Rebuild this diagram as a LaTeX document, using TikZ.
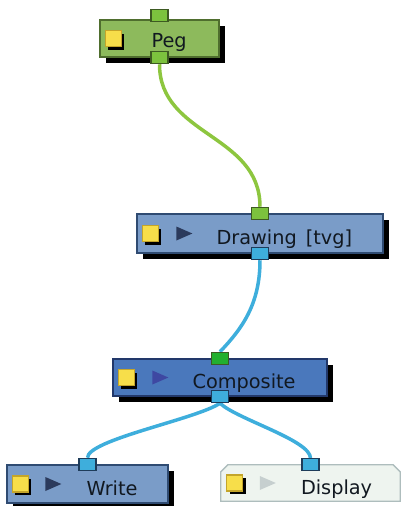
\documentclass[tikz,border=0pt]{standalone}
\usepackage{fontspec}
\setmainfont{DejaVu Sans}
\usetikzlibrary{calc,shadows,backgrounds}
\definecolor{pegfill}{HTML}{8DBA5C}
\definecolor{pegdraw}{HTML}{4F6E2E}
\definecolor{gport}{HTML}{7CC23E}
\definecolor{gportdraw}{HTML}{3D5A22}
\definecolor{drfill}{HTML}{7A9CC8}
\definecolor{drdraw}{HTML}{2F4B72}
\definecolor{cofill}{HTML}{4A78BC}
\definecolor{codraw}{HTML}{22386A}
\definecolor{bport}{HTML}{3EAEDC}
\definecolor{bportdraw}{HTML}{1E3C5A}
\definecolor{cport}{HTML}{22B02E}
\definecolor{difill}{HTML}{EEF4EF}
\definecolor{didraw}{HTML}{AEBDBD}
\definecolor{yel}{HTML}{F7DE4A}
\definecolor{yeldraw}{HTML}{C4A52A}
\definecolor{tridark}{HTML}{2B3A5C}
\definecolor{triblue}{HTML}{3E48A2}
\definecolor{trilight}{HTML}{C6CFCF}
\definecolor{gwire}{HTML}{8DC63F}
\definecolor{bwire}{HTML}{3EAEDC}
\definecolor{txt}{HTML}{111820}
\begin{document}
\begin{tikzpicture}[x=1pt,y=-1pt,
  box/.style={rectangle,inner sep=0pt,line width=1.3pt,
    drop shadow={shadow xshift=6pt,shadow yshift=-6pt,fill=black,opacity=1}},
  port/.style={rectangle,inner sep=0pt,minimum width=17pt,minimum height=12pt,line width=1.2pt},
  gp/.style={port,fill=gport,draw=gportdraw},
  bp/.style={port,fill=bport,draw=bportdraw},
  cp/.style={port,fill=cport,draw=gportdraw},
  ysq/.style={rectangle,inner sep=0pt,minimum size=16pt,fill=yel,draw=yeldraw,line width=1.2pt,
    drop shadow={shadow xshift=3pt,shadow yshift=-3pt,fill=black,opacity=1}},
  lbl/.style={inner sep=0pt,font=\fontsize{19.3}{22}\selectfont,text=txt},
  gw/.style={draw=gwire,line width=3.5pt},
  bw/.style={draw=bwire,line width=3.5pt}
]
\useasboundingbox (0,0) rectangle (406,506);

% Peg
\node[box,fill=pegfill,draw=pegdraw,minimum width=119pt,minimum height=37pt] (peg) at (159.5,38.5) {};
\node[ysq] (pegy) at ($(peg.west)+(14,0)$) {};
\node[lbl,anchor=base west] (pegt) at ($(peg.west)+(52,9)$) {Peg};
\node[gp] (pegin) at ($(peg.north)+(0,-4)$) {};
\node[gp] (pegout) at (peg.south) {};

% Drawing
\node[box,fill=drfill,draw=drdraw,minimum width=246pt,minimum height=39pt] (dr) at (260,233.5) {};
\node[ysq] (dry) at ($(dr.west)+(14,0)$) {};
\fill[tridark] ($(dr.west)+(40,-7)$) -- ++(16,7) -- ++(-16,7) -- cycle;
\node[lbl,anchor=base west] (drt) at ($(dr.west)+(80,11)$) {Drawing\hspace{9pt}[tvg]};
\node[gp] (drin) at (dr.north) {};
\node[bp] (drout) at (dr.south) {};

% Composite
\node[box,fill=cofill,draw=codraw,minimum width=214pt,minimum height=37pt] (co) at (220,377.5) {};
\node[ysq] (coy) at ($(co.west)+(14,0)$) {};
\fill[triblue] ($(co.west)+(40,-7)$) -- ++(16,7) -- ++(-16,7) -- cycle;
\node[lbl,anchor=base west] (cot) at ($(co.west)+(80,11)$) {Composite};
\node[cp] (coin) at (co.north) {};
\node[bp] (coout) at (co.south) {};

% Write
\node[box,fill=drfill,draw=drdraw,minimum width=161pt,minimum height=38pt] (wr) at (87.5,484) {};
\node[ysq] (wry) at ($(wr.west)+(14,0)$) {};
\fill[tridark] ($(wr.west)+(39,-7)$) -- ++(16,7) -- ++(-16,7) -- cycle;
\node[lbl,anchor=base west] (wrt) at ($(wr.west)+(80,11)$) {Write};
\node[bp] (wrin) at (wr.north) {};

% Display
\node[rectangle,inner sep=0pt,minimum width=179pt,minimum height=36pt] (di) at (310.5,483) {};
\filldraw[fill=difill,draw=didraw,line width=1.3pt]
  (di.south west) -- ($(di.north west)+(0,7)$) -- ($(di.north west)+(7,0)$)
  -- ($(di.north east)+(-7,0)$) -- ($(di.north east)+(0,7)$) -- (di.south east) -- cycle;
\node[ysq] (diy) at ($(di.west)+(14,0)$) {};
\fill[trilight] ($(di.west)+(39,-7)$) -- ++(16,7) -- ++(-16,7) -- cycle;
\node[lbl,anchor=base west] (dit) at ($(di.west)+(80,11)$) {Display};
\node[bp] (diin) at (di.north) {};

% wires
\begin{scope}[on background layer]
\draw[gw] (pegout.south) .. controls +(0,72) and +(0,-73) .. (drin.north);
\draw[bw] (drout.south) .. controls +(0,44) and +(22,-23) .. (coin.north);
\draw[bw] (coout.south) .. controls +(-24,16) and +(0,-18) .. (wrin.north);
\draw[bw] (coout.south) .. controls +(17,16) and +(0,-18) .. (diin.north);
\end{scope}
\end{tikzpicture}
\end{document}
